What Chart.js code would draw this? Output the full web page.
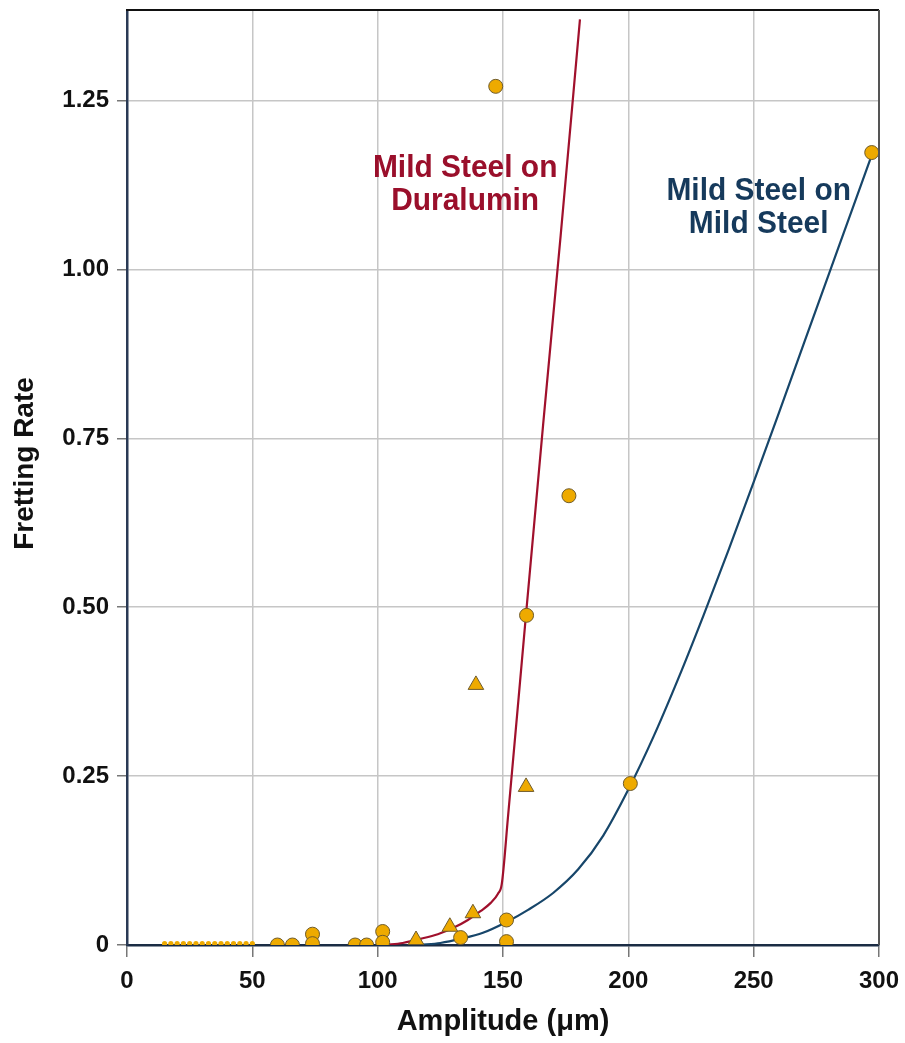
<!DOCTYPE html>
<html>
<head>
<meta charset="utf-8">
<script src="https://cdn.jsdelivr.net/npm/chart.js@4.4.1/dist/chart.umd.min.js"></script>
<style>
  html, body { margin: 0; padding: 0; background: #ffffff; }
  #wrap { width: 905px; height: 1043px; }
</style>
</head>
<body>
<div id="wrap"><canvas id="chart" width="905" height="1043"></canvas></div>
<script>
// Fretting rate versus slip amplitude for two material pairs

const xTickValues = [0, 50, 100, 150, 200, 250, 300];
const yTickValues = [0, 0.25, 0.5, 0.75, 1.0, 1.25];

// low-amplitude trace readings (near zero wear)
const traceX = [15, 17.5, 20, 22.5, 25, 27.5, 30, 32.5, 35, 37.5, 40, 42.5, 45, 47.5, 50];
const traceY = [0.002, 0.002, 0.002, 0.002, 0.002, 0.002, 0.002, 0.002, 0.002, 0.002, 0.002, 0.002, 0.002, 0.002, 0.002];

// measured points, circles
const circleX = [60, 66, 74, 74, 91, 95.6, 102, 102, 133.1, 151.4, 151.4, 147.1, 159.4, 176.3, 200.8, 297.1];
const circleY = [0, 0, 0.016, 0.002, 0, 0, 0.02, 0.004, 0.011, 0.037, 0.005, 1.271, 0.488, 0.665, 0.239, 1.173];

// measured points, triangles
const triangleX = [115.3, 128.8, 138, 139.2, 159.2];
const triangleY = [0.0074, 0.027, 0.047, 0.385, 0.234];

// fitted curve: mild steel on duralumin
const duraluminX = [103, 110, 117, 124, 130, 136, 141, 145, 148, 149.5, 152, 159.2, 166, 173, 180.7];
const duraluminY = [0, 0.003, 0.009, 0.016, 0.025, 0.037, 0.05, 0.062, 0.076, 0.09, 0.19, 0.49, 0.77, 1.05, 1.37];

// fitted curve: mild steel on mild steel
const steelX = [117, 125, 133, 142, 151.4, 160, 170, 180, 190, 200, 210, 220, 230, 240, 250, 260, 270, 280, 290, 297];
const steelY = [0, 0.003, 0.009, 0.018, 0.034, 0.052, 0.077, 0.112, 0.162, 0.23, 0.308, 0.395, 0.488, 0.585, 0.685, 0.787, 0.89, 0.993, 1.096, 1.168];

const RED = '#a0102c';
const NAVY = '#17466a';
const GOLD = '#eeaa00';
const GOLD_EDGE = '#6e5b2c';
const FONT = '"Liberation Sans", Arial, sans-serif';

const toPoints = (xs, ys) => xs.map((x, i) => ({ x, y: ys[i] }));

// curve captions, anchored in data units
const captions = [
  { lines: ['Mild Steel on', 'Duralumin'], x: 134.9, y: 1.137, color: '#9a0f2b' },
  { lines: ['Mild Steel on', 'Mild Steel'], x: 252, y: 1.103, color: '#163a5c' }
];

const framePlugin = {
  id: 'frame',
  afterDatasetsDraw(chart) {
    const { ctx, chartArea: a, scales } = chart;
    ctx.save();
    // top and right edges of the plot box
    ctx.lineWidth = 2;
    ctx.strokeStyle = '#111111';
    ctx.beginPath();
    ctx.moveTo(a.left - 1, a.top);
    ctx.lineTo(a.right, a.top);
    ctx.stroke();
    ctx.strokeStyle = '#555555';
    ctx.beginPath();
    ctx.moveTo(a.right, a.top);
    ctx.lineTo(a.right, a.bottom);
    ctx.stroke();

    // curve captions, slightly condensed bold type
    ctx.font = 'bold 32px ' + FONT;
    ctx.textAlign = 'center';
    ctx.textBaseline = 'alphabetic';
    captions.forEach(c => {
      const px = scales.x.getPixelForValue(c.x);
      const py = scales.y.getPixelForValue(c.y);
      ctx.fillStyle = c.color;
      c.lines.forEach((line, i) => {
        ctx.save();
        ctx.translate(px, py + i * 33);
        ctx.scale(0.935, 1);
        ctx.fillText(line, 0, 0);
        ctx.restore();
      });
    });

    // axis titles
    ctx.fillStyle = '#111111';
    ctx.font = 'bold 28px ' + FONT;
    ctx.textBaseline = 'middle';
    ctx.save();
    ctx.translate(25, (a.top + a.bottom) / 2 - 14);
    ctx.rotate(-Math.PI / 2);
    ctx.fillText('Fretting Rate', 0, 0);
    ctx.restore();
    ctx.font = 'bold 29px ' + FONT;
    ctx.fillText('Amplitude (\u03bcm)', (a.left + a.right) / 2, a.bottom + 77);
    ctx.restore();
  }
};

new Chart(document.getElementById('chart'), {
  type: 'scatter',
  data: {
    datasets: [
      {
        label: 'traces',
        data: toPoints(traceX, traceY),
        pointStyle: 'circle',
        pointRadius: 2.6,
        backgroundColor: GOLD,
        borderColor: GOLD,
        borderWidth: 0,
        order: 0
      },
      {
        label: 'circles',
        data: toPoints(circleX, circleY),
        pointStyle: 'circle',
        pointRadius: 7,
        backgroundColor: GOLD,
        borderColor: GOLD_EDGE,
        borderWidth: 1,
        order: 0
      },
      {
        label: 'triangles',
        data: toPoints(triangleX, triangleY),
        pointStyle: 'triangle',
        pointRadius: 9,
        backgroundColor: GOLD,
        borderColor: GOLD_EDGE,
        borderWidth: 1,
        order: 0
      },
      {
        label: 'Mild Steel on Duralumin',
        data: toPoints(duraluminX, duraluminY),
        showLine: true,
        pointRadius: 0,
        borderColor: RED,
        borderWidth: 2.2,
        cubicInterpolationMode: 'monotone',
        order: 1
      },
      {
        label: 'Mild Steel on Mild Steel',
        data: toPoints(steelX, steelY),
        showLine: true,
        pointRadius: 0,
        borderColor: NAVY,
        borderWidth: 2.2,
        cubicInterpolationMode: 'monotone',
        order: 1
      }
    ]
  },
  options: {
    responsive: false,
    animation: false,
    devicePixelRatio: 1,
    layout: { padding: { top: 10, right: 26, left: 0, bottom: 0 } },
    plugins: {
      legend: { display: false },
      tooltip: { enabled: false }
    },
    scales: {
      x: {
        type: 'linear',
        min: 0,
        max: 300,
        afterFit: s => { s.height = 98; s.paddingLeft = 0; s.paddingRight = 0; },
        afterBuildTicks: s => { s.ticks = xTickValues.map(v => ({ value: v })); },
        ticks: {
          font: { family: FONT, size: 24, weight: 'bold' },
          color: '#111111',
          padding: 10,
          callback: v => String(v)
        },
        grid: {
          color: ctx => ctx.tick && (ctx.tick.value === 0 || ctx.tick.value === 300) ? 'rgba(0,0,0,0)' : '#c6c6c6',
          lineWidth: 1.5,
          tickColor: '#777777',
          tickLength: 12
        },
        border: { display: true, color: '#1b2c44', width: 2.5 }
      },
      y: {
        type: 'linear',
        min: 0,
        max: 1.384,
        afterFit: s => { s.width = 127; s.paddingTop = 0; s.paddingBottom = 0; },
        afterBuildTicks: s => { s.ticks = yTickValues.map(v => ({ value: v })); },
        ticks: {
          font: { family: FONT, size: 24, weight: 'bold' },
          color: '#111111',
          padding: 8,
          callback: v => (v === 0 ? '0' : Number(v).toFixed(2))
        },
        grid: {
          color: ctx => ctx.tick && ctx.tick.value === 0 ? 'rgba(0,0,0,0)' : '#c6c6c6',
          lineWidth: 1.5,
          tickColor: '#777777',
          tickLength: 10
        },
        border: { display: true, color: '#2a3a55', width: 2.5 }
      }
    }
  },
  plugins: [framePlugin]
});
</script>
</body>
</html>
